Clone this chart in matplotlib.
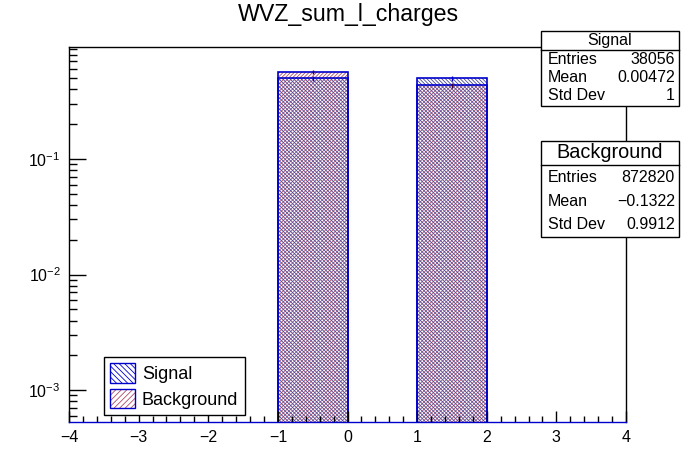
import numpy as np
import matplotlib
matplotlib.use('Agg')
import matplotlib.pyplot as plt
from matplotlib.patches import Patch, Rectangle
from matplotlib.ticker import LogLocator, FixedLocator, MultipleLocator

plt.rcParams['font.family'] = ['Liberation Sans', 'DejaVu Sans']
plt.rcParams['mathtext.fontset'] = 'custom'
plt.rcParams['mathtext.rm'] = 'Liberation Sans'
plt.rcParams['mathtext.it'] = 'Liberation Sans'
plt.rcParams['hatch.linewidth'] = 0.6

# histogram data (normalised), bins of width 1 from -4 to 4
edges = np.arange(-4, 5)
signal = [0, 0, 0, 0.498, 0, 0.502, 0, 0]
background = [0, 0, 0, 0.565, 0, 0.435, 0, 0]
signal_err = [0, 0, 0, 0.025, 0, 0.025, 0, 0]
background_err = [0, 0, 0, 0.02, 0, 0.02, 0, 0]

sig_stats = [('Entries', '38056'), ('Mean', '0.00472'), ('Std Dev', '1')]
bkg_stats = [('Entries', '872820'), ('Mean', '\u22120.1322'), ('Std Dev', '0.9912')]

blue = '#0000cc'
sig_hatch = '#44449a'
bkg_hatch = '#b04a66'
W, H = 696, 472

fig = plt.figure(figsize=(6.96, 4.72), dpi=100)
ax = fig.add_axes([69 / W, 1 - 422 / H, (626 - 69) / W, (422 - 47) / H])

centers = (edges[:-1] + edges[1:]) / 2
ax.bar(edges[:-1], background, width=1, align='edge', facecolor='none',
       edgecolor=bkg_hatch, hatch='/////////', linewidth=0)
ax.bar(edges[:-1], signal, width=1, align='edge', facecolor='none',
       edgecolor=sig_hatch, hatch='\\\\\\\\\\\\\\\\\\', linewidth=0)

# outlines of the non-empty bins
for vals in (background, signal):
    for i, v in enumerate(vals):
        if v > 0:
            ax.stairs([v], edges[i:i + 2], color=blue, linewidth=1.2, baseline=1e-6)

mask = np.array(signal) > 0
ax.errorbar(centers[mask], np.array(signal)[mask], yerr=np.array(signal_err)[mask],
            fmt='none', ecolor=blue, elinewidth=1)
mask_b = np.array(background) > 0
ax.errorbar(centers[mask_b], np.array(background)[mask_b], yerr=np.array(background_err)[mask_b],
            fmt='none', ecolor='#330033', elinewidth=1)

ax.set_yscale('log')
ax.set_xlim(-4, 4)
ax.set_ylim(5.3e-4, 0.93)
ax.xaxis.set_major_locator(MultipleLocator(1))
ax.xaxis.set_minor_locator(MultipleLocator(0.2))
ax.yaxis.set_major_locator(FixedLocator([1e-3, 1e-2, 1e-1]))
ax.yaxis.set_minor_locator(LogLocator(base=10, subs=np.arange(2, 10), numticks=20))
ax.yaxis.set_major_formatter(plt.FuncFormatter(lambda v, p: r'$10^{%d}$' % round(np.log10(v))))
ax.tick_params(axis='x', which='major', direction='in', length=8, width=1, labelsize=11.5, pad=6)
ax.tick_params(axis='x', which='minor', direction='in', length=4, width=1)
ax.tick_params(axis='y', which='major', direction='in', length=12, width=1, labelsize=11.5, pad=6)
ax.tick_params(axis='y', which='minor', direction='in', length=6, width=1)
ax.tick_params(axis='y', which='minor', labelleft=False)
for s in ax.spines.values():
    s.set_linewidth(1)
ax.spines['bottom'].set_color(blue)

# legend
sig_handle = Patch(facecolor='white', edgecolor=blue, hatch='\\\\\\\\\\\\', linewidth=1)
bkg_handle = (Patch(facecolor='white', edgecolor=bkg_hatch, hatch='//////', linewidth=0),
              Patch(facecolor='none', edgecolor=blue, linewidth=1))
leg = ax.legend([sig_handle, bkg_handle], ['Signal', 'Background'],
                loc='lower left', bbox_to_anchor=(104 / W, 1 - 415 / H),
                bbox_transform=fig.transFigure, fontsize=13, frameon=True,
                fancybox=False, edgecolor='black', framealpha=1,
                handlelength=1.35, handleheight=1.3, handletextpad=0.4,
                borderpad=0.35, labelspacing=0.3, borderaxespad=0)
leg.get_frame().set_linewidth(1)

fig.text(0.5, 1 - 15 / H, 'WVZ_sum_l_charges', ha='center', va='center', fontsize=16.7)


def stat_box(x0, x1, y0, yline, y1, title, title_size, rows, row_ys):
    fig.add_artist(Rectangle((x0 / W, 1 - y1 / H), (x1 - x0) / W, (y1 - y0) / H,
                             transform=fig.transFigure, facecolor='white',
                             edgecolor='black', linewidth=1, zorder=5))
    fig.add_artist(plt.Line2D([x0 / W, x1 / W], [1 - yline / H, 1 - yline / H],
                              transform=fig.transFigure, color='black', linewidth=1, zorder=6))
    fig.text((x0 + x1) / 2 / W, 1 - (y0 + yline) / 2 / H, title, ha='center', va='center',
             fontsize=title_size, zorder=7)
    for (name, val), yy in zip(rows, row_ys):
        fig.text((x0 + 7) / W, 1 - yy / H, name, ha='left', va='center', fontsize=11.5, zorder=7)
        fig.text((x1 - 4) / W, 1 - yy / H, val, ha='right', va='center', fontsize=11.5, zorder=7)


stat_box(541, 679, 31, 50, 106, 'Signal', 11.5, sig_stats, [60, 78, 96])
stat_box(541, 679, 141, 165, 237, 'Background', 14.3, bkg_stats, [178, 201, 225])

fig.savefig('out.png', dpi=100)
